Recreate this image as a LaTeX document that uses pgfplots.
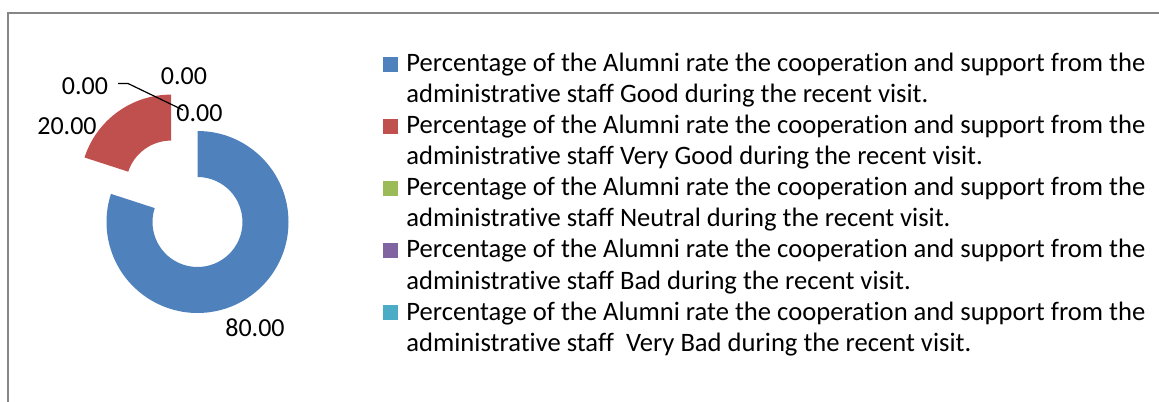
\documentclass[border=0pt]{standalone}
\usepackage{pgfplots}
\pgfplotsset{compat=1.18}
\usepackage{pgfplotstable}
\usepackage{fontspec}
\setmainfont{Carlito}[Ligatures=NoCommon]
\definecolor{sBlue}{HTML}{4F81BD}
\definecolor{sRed}{HTML}{C0504D}
\definecolor{sGreen}{HTML}{9BBB59}
\definecolor{sPurple}{HTML}{8064A2}
\definecolor{sCyan}{HTML}{4BACC6}
\definecolor{frameGray}{HTML}{868686}

\pgfplotstableread{
idx value
0 80.00
1 20.00
2 0.00
3 0.00
4 0.00
}\donutdata

\begin{document}
\begin{tikzpicture}
\pgfplotstablegetelem{0}{value}\of\donutdata \pgfmathsetmacro\vA{\pgfplotsretval}
\pgfplotstablegetelem{1}{value}\of\donutdata \pgfmathsetmacro\vB{\pgfplotsretval}
\pgfplotstablegetelem{2}{value}\of\donutdata \pgfmathsetmacro\vC{\pgfplotsretval}
\pgfplotstablegetelem{3}{value}\of\donutdata \pgfmathsetmacro\vD{\pgfplotsretval}
\pgfplotstablegetelem{4}{value}\of\donutdata \pgfmathsetmacro\vE{\pgfplotsretval}
\pgfmathsetmacro\tot{\vA+\vB+\vC+\vD+\vE}
\pgfmathsetmacro\sA{90}
\pgfmathsetmacro\eA{\sA-360*(\vA/\tot)}
\pgfmathsetmacro\sB{\eA}
\pgfmathsetmacro\eB{\sB-360*(\vB/\tot)}
\pgfmathsetmacro\mB{(\sB+\eB)/2}
\def\cx{197.5}\def\cy{179}
\pgfmathsetmacro\cxB{\cx+45*cos(\mB)}
\pgfmathsetmacro\cyB{\cy+45*sin(\mB)}
\begin{axis}[at={(0,0)},anchor=south west,width=579.5pt,height=200.5pt,scale only axis,
  xmin=0,xmax=1159,ymin=0,ymax=401,hide axis,clip=false]
% frame
\draw[frameGray,line width=0.75pt] (axis cs:8.2,-30) -- (axis cs:8.2,388) -- (axis cs:1200,388);
% donut slices
\fill[sBlue] (axis cs:\cx,\cy) ++(\sA:45.5pt) arc[start angle=\sA,end angle=\eA,radius=45.5pt]
   -- ++({\eA+180}:23pt) arc[start angle=\eA,end angle=\sA,radius=22.5pt] -- cycle;
\fill[sRed] (axis cs:\cxB,\cyB) ++(\sB:45.5pt) arc[start angle=\sB,end angle=\eB,radius=45.5pt]
   -- ++({\eB+180}:23pt) arc[start angle=\eB,end angle=\sB,radius=22.5pt] -- cycle;
% data labels
\begin{scope}[every node/.style={font=\fontsize{13pt}{15.5pt}\selectfont,inner sep=0pt,anchor=base}]
\node at (axis cs:85,306) {0.00};
\node at (axis cs:184,316) {0.00};
\node at (axis cs:199.5,279) {0.00};
\node at (axis cs:67,266) {20.00};
\node at (axis cs:255,64) {80.00};
\end{scope}
\draw[black,line width=0.6pt] (axis cs:118,317.5) -- (axis cs:128,317.5) -- (axis cs:183,291);
% legend
\fill[sBlue] (axis cs:383,328.5) rectangle (axis cs:398,343.5);
\fill[sRed] (axis cs:383,266.5) rectangle (axis cs:398,281.5);
\fill[sGreen] (axis cs:383,204.5) rectangle (axis cs:398,219.5);
\fill[sPurple] (axis cs:383,142.5) rectangle (axis cs:398,157.5);
\fill[sCyan] (axis cs:383,80.5) rectangle (axis cs:398,95.5);
\begin{scope}[every node/.style={font=\fontsize{13.3pt}{15.5pt}\selectfont,inner sep=0pt,anchor=base west}]
\node at (axis cs:406,329) {Percentage of the Alumni rate the cooperation and support from the};
\node at (axis cs:406,298) {administrative staff Good during the recent visit.};
\node at (axis cs:406,267) {Percentage of the Alumni rate the cooperation and support from the};
\node at (axis cs:406,236) {administrative staff Very Good during the recent visit.};
\node at (axis cs:406,205) {Percentage of the Alumni rate the cooperation and support from the};
\node at (axis cs:406,174) {administrative staff Neutral during the recent visit.};
\node at (axis cs:406,143) {Percentage of the Alumni rate the cooperation and support from the};
\node at (axis cs:406,112) {administrative staff Bad during the recent visit.};
\node at (axis cs:406,81) {Percentage of the Alumni rate the cooperation and support from the};
\node at (axis cs:406,50) {administrative staff\ \ Very Bad during the recent visit.};
\end{scope}
\end{axis}
\pgfresetboundingbox
\path (current axis.south west) rectangle (current axis.north east);
\end{tikzpicture}
\end{document}
